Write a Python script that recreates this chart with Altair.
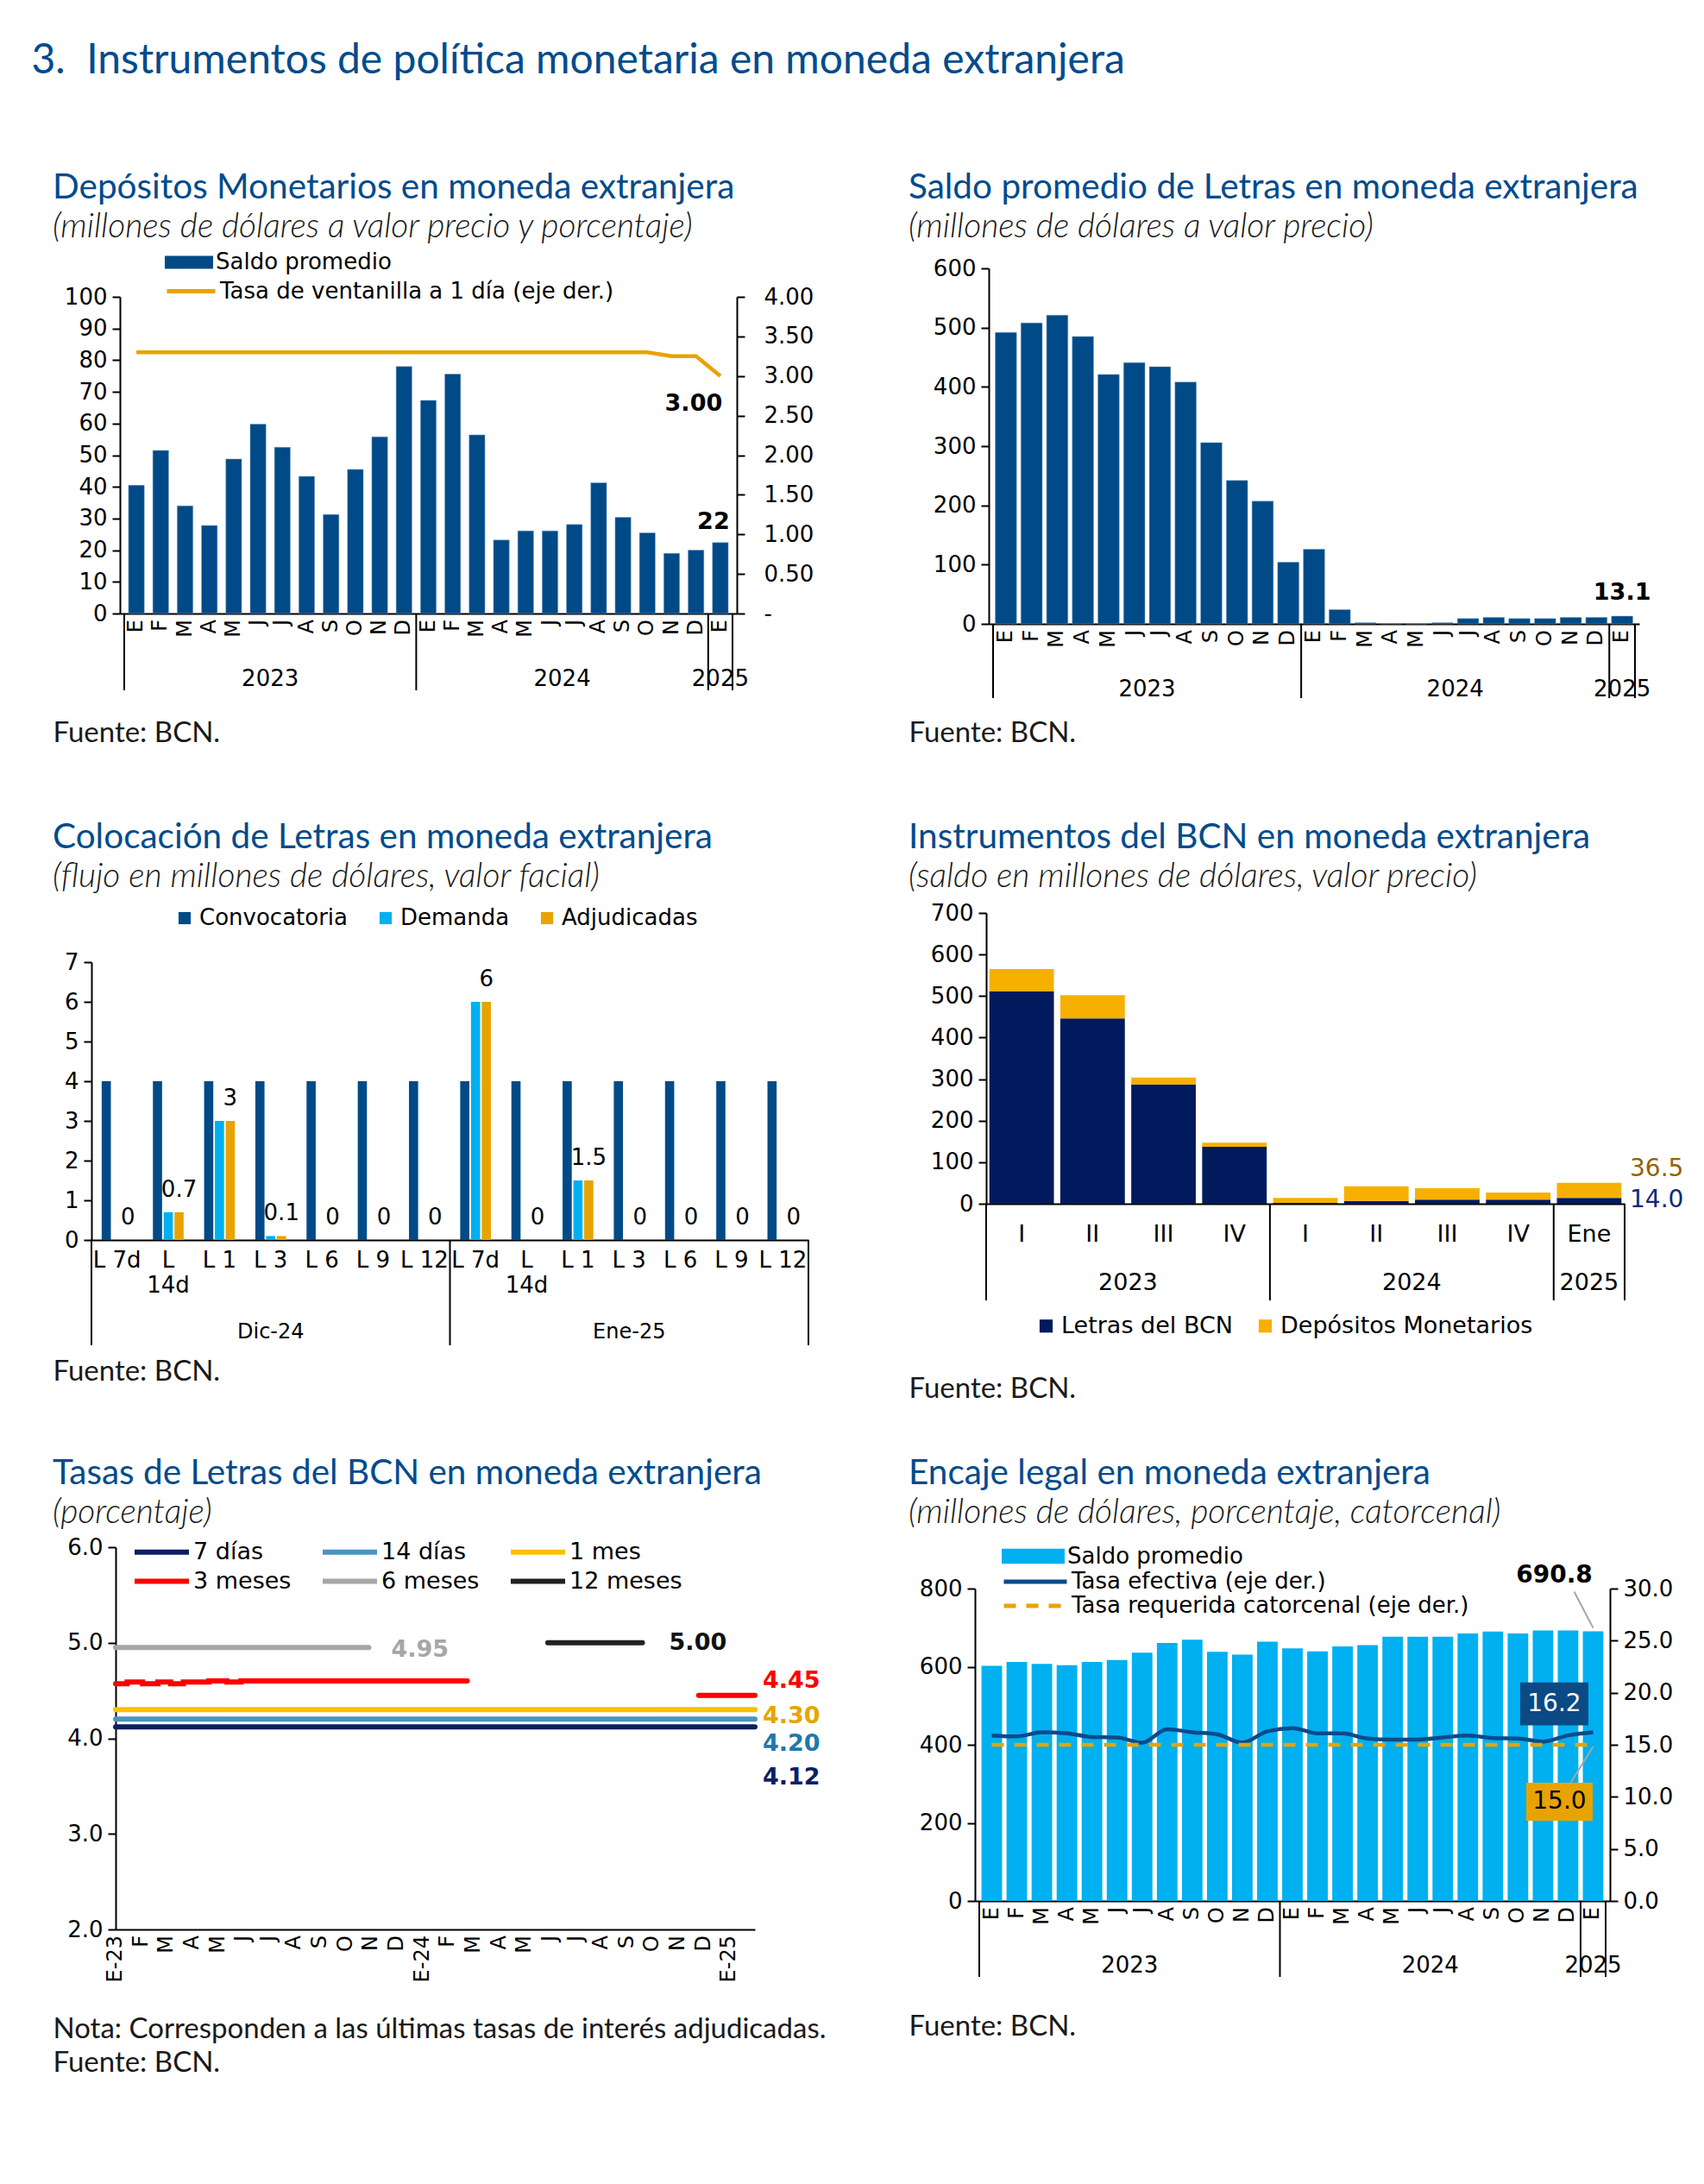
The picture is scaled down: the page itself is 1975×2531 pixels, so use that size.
import json
import altair as alt
import pandas as pd

# ---------------------------------------------------------------- data
MESES = ["E", "F", "M", "A", "M", "J", "J", "A", "S", "O", "N", "D"]

# 1. Depósitos Monetarios (ene-2023 .. ene-2025)
dep_saldo = [40.5, 51.5, 34.0, 27.8, 48.8, 59.8, 52.5, 43.3, 31.3, 45.5, 55.8, 78.0,
             67.3, 75.6, 56.4, 23.2, 26.1, 26.1, 28.1, 41.3, 30.4, 25.5, 19.0, 20.0,
             22.4]
dep_tasa = [3.30, 3.30, 3.30, 3.30, 3.30, 3.30, 3.30, 3.30, 3.30, 3.30, 3.30, 3.30,
            3.30, 3.30, 3.30, 3.30, 3.30, 3.30, 3.30, 3.30, 3.30, 3.30, 3.25, 3.25,
            3.00]

# 2. Saldo promedio de Letras
letras_saldo = [492, 508, 521, 485, 421, 441, 434, 408, 306, 242, 207, 104,
                126, 24, 2, 0.7, 0.5, 2, 9, 11, 9, 9, 11, 11,
                13.1]

# 3. Colocación de Letras
col_mes = ["Dic-24", "Ene-25"]
col_cat = ["L 7d", "L 14d", "L 1", "L 3", "L 6", "L 9", "L 12"]
col_conv = [4, 4, 4, 4, 4, 4, 4, 4, 4, 4, 4, 4, 4, 4]
col_dem = [0, 0.7, 3, 0.1, 0, 0, 0, 6, 0, 1.5, 0, 0, 0, 0]
col_adj = [0, 0.7, 3, 0.1, 0, 0, 0, 6, 0, 1.5, 0, 0, 0, 0]

# 4. Instrumentos del BCN
ins_per = ["I", "II", "III", "IV", "I", "II", "III", "IV", "Ene"]
ins_anio = ["2023", "2023", "2023", "2023", "2024", "2024", "2024", "2024", "2025"]
ins_letras = [511, 446, 287, 137, 2, 7, 10, 10, 14.0]
ins_dep = [54, 56, 17, 10, 12, 35, 27.5, 17, 36.5]

# 5. Tasas de Letras (x = meses desde ene-2023)
t7_x, t7_y = [0, 25], [4.12, 4.12]
t14_x, t14_y = [0, 25], [4.20, 4.20]
t1m_x, t1m_y = [0, 25], [4.30, 4.30]
t3m_a_x = [0, 0.45, 1.05, 1.65, 2.15, 2.65, 3.65, 4.35, 4.9, 13.75]
t3m_a_y = [4.57, 4.59, 4.57, 4.59, 4.57, 4.59, 4.60, 4.59, 4.60, 4.60]
t3m_b_x, t3m_b_y = [22.8, 25], [4.45, 4.45]
t6m_x, t6m_y = [0, 9.9], [4.95, 4.95]
t12m_x, t12m_y = [16.9, 20.6], [5.00, 5.00]

# 6. Encaje legal
enc_saldo = [602, 612, 607, 604, 612, 617, 636, 661, 669, 638, 631, 664,
             647, 639, 652, 655, 677, 677, 677, 685, 690, 685, 693, 693,
             690.8]
enc_efec = [15.9, 15.8, 16.2, 16.1, 15.75, 15.7, 15.2, 16.5, 16.2, 16.0, 15.2, 16.3,
            16.6, 16.1, 16.1, 15.6, 15.5, 15.5, 15.7, 15.9, 15.65, 15.6, 15.3, 15.9,
            16.2]
enc_req = [15.0, 15.0, 15.0, 15.0, 15.0, 15.0, 15.0, 15.0, 15.0, 15.0, 15.0, 15.0,
           15.0, 15.0, 15.0, 15.0, 15.0, 15.0, 15.0, 15.0, 15.0, 15.0, 15.0, 15.0,
           15.0]

# ---------------------------------------------------------------- style
FONT = "DejaVu Sans"
TFONT = "Lato"
BLUE_T = "#004B8D"
DARK = "#004A87"
NAVY = "#001A5E"
AMBER = "#F7B000"
GOLD = "#E8A300"
CYAN = "#00B0F0"
LS = 26  # label font size
NB = "\u00a0"
TC = 60  # tickCount high enough that explicit tick values are never thinned

N = 25
month_vals = [i + 0.5 for i in range(N)]
month_let = [MESES[i % 12] for i in range(N)]


def ttl(text, sub, offset):
    return alt.TitleParams(text=text, subtitle=sub, anchor="start", frame="bounds",
                           font=TFONT, fontSize=40.5, fontWeight="normal", color=BLUE_T,
                           subtitleFont=TFONT, subtitleFontSize=39, subtitleFontStyle="italic",
                           subtitleFontWeight=300, subtitleColor="#1a1a1a",
                           subtitlePadding=6, offset=offset)


def fuente(text, tx, ty):
    return dict(title=text, titleAnchor="start", titleAlign="left", titleBaseline="middle",
                titleX=tx, titleY=ty, titleFont=TFONT, titleFontSize=33,
                titleFontWeight="normal", titleColor="#1a1a1a", titleLineHeight=39)


def month_x(tx, ty):
    return alt.X("pos:Q", scale=alt.Scale(domain=[0, N], nice=False, zero=False),
                 axis=alt.Axis(labels=False, ticks=False, grid=False,
                               **fuente("Fuente: BCN.", tx, ty)))


def month_labels(height):
    return alt.Chart(pd.DataFrame({"pos": month_vals, "m": month_let})).mark_text(
        font=FONT, fontSize=24, angle=270, align="right", baseline="middle").encode(
        x="pos:Q", y=alt.value(height + 7), text="m:N")


def years_layers(height, ysep, ylab, yrs):
    seps = pd.DataFrame({"pos": [0, 12, 24, 25]})
    r = alt.Chart(seps).mark_rule(color="black", strokeWidth=2).encode(
        x="pos:Q", y=alt.value(height), y2=alt.value(height + ysep))
    t = alt.Chart(pd.DataFrame({"pos": [6, 18, 24.5], "yr": yrs})).mark_text(
        font=FONT, fontSize=LS, baseline="middle").encode(
        x="pos:Q", y=alt.value(height + ylab), text="yr:N")
    return r, t


def bar_legend(x, y, size, ratio):
    return alt.Legend(title=None, orient="none", legendX=x, legendY=y,
                      symbolType=f"M-1,-{ratio}L1,-{ratio}L1,{ratio}L-1,{ratio}Z",
                      symbolSize=size, symbolStrokeWidth=0, labelOffset=3)


YEARS = ["2023", "2024", "2025"]

# ---------------------------------------------------------------- chart 1
W1, H1 = 715, 367
df1 = pd.DataFrame({"pos": month_vals, "saldo": dep_saldo, "tasa": dep_tasa,
                    "s1": "Saldo promedio", "s2": "Tasa de ventanilla a 1 día (eje der.)"})
bars1 = alt.Chart(df1).mark_bar(width=0.64 * W1 / N, stroke="#7FA6CC", strokeWidth=0.5).encode(
    x=month_x(-78, 138),
    y=alt.Y("saldo:Q", scale=alt.Scale(domain=[0, 100]),
            axis=alt.Axis(values=list(range(0, 101, 10)), tickCount=TC, format="d",
                          title=None)),
    fill=alt.Fill("s1:N", scale=alt.Scale(range=[DARK]),
                  legend=bar_legend(52, -68, 3136, 0.27)))
lbl1 = alt.Chart(df1.tail(1)).mark_text(font=FONT, fontSize=27, fontWeight="bold",
                                        dx=-8, dy=-24, baseline="middle").encode(
    x="pos:Q", y="saldo:Q", text=alt.Text("saldo:Q", format=".0f"))
line1 = alt.Chart(df1).mark_line(strokeWidth=4.5).encode(
    x="pos:Q",
    y=alt.Y("tasa:Q", scale=alt.Scale(domain=[0, 4]),
            axis=alt.Axis(orient="right", values=[0, 0.5, 1, 1.5, 2, 2.5, 3, 3.5, 4], title=None,
                          tickCount=TC,
                          labelExpr="datum.value == 0 ? '-' : format(datum.value, '.2f')",
                          labelPadding=22)),
    stroke=alt.Stroke("s2:N", scale=alt.Scale(range=[GOLD]),
                      legend=alt.Legend(title=None, orient="none", legendX=52, legendY=-37,
                                        symbolType="stroke", symbolSize=3136,
                                        symbolStrokeWidth=5, labelOffset=3)))
lbl1b = alt.Chart(df1.tail(1)).mark_text(font=FONT, fontSize=27, fontWeight="bold",
                                         dx=-31, dy=32, baseline="middle").encode(
    x="pos:Q", y="tasa:Q", text=alt.Text("tasa:Q", format=".2f"))
r1, t1 = years_layers(H1, 89, 76, YEARS)
c1 = alt.layer(alt.layer(bars1, lbl1), alt.layer(line1, lbl1b), r1, t1,
               month_labels(H1)).resolve_scale(y="independent").properties(
    width=W1, height=H1,
    title=ttl("Depósitos Monetarios en moneda extranjera",
              "(millones de dólares a valor precio y porcentaje)", -7))

# ---------------------------------------------------------------- chart 2
W2, H2 = 754, 412
df2 = pd.DataFrame({"pos": month_vals, "saldo": letras_saldo})
bars2 = alt.Chart(df2).mark_bar(width=0.82 * W2 / N, color=DARK, stroke="#7FA6CC",
                                strokeWidth=0.5).encode(
    x=month_x(-93, 126),
    y=alt.Y("saldo:Q", scale=alt.Scale(domain=[0, 600]),
            axis=alt.Axis(values=list(range(0, 601, 100)), tickCount=TC, format="d",
                          title=None)))
lbl2 = alt.Chart(df2.tail(1)).mark_text(font=FONT, fontSize=27, fontWeight="bold",
                                        dy=-27, baseline="middle").encode(
    x="pos:Q", y="saldo:Q", text=alt.Text("saldo:Q", format=".1f"))
r2, t2 = years_layers(H2, 86, 76, YEARS)
c2 = alt.layer(bars2, lbl2, r2, t2, month_labels(H2)).properties(
    width=W2, height=H2,
    title=ttl("Saldo promedio de Letras en moneda extranjera",
              "(millones de dólares a valor precio)", 15))

# ---------------------------------------------------------------- chart 3
W3, H3 = 831, 322
SER3 = ["Convocatoria", "Demanda", "Adjudicadas"]
keys3 = [f"{m}|{c}" for m in col_mes for c in col_cat]
rows3 = []
for k, cv, dm, ad in zip(keys3, col_conv, col_dem, col_adj):
    rows3.append({"key": k, "serie": "Convocatoria", "val": cv, "lbl": ""})
    rows3.append({"key": k, "serie": "Demanda", "val": dm, "lbl": ""})
    rows3.append({"key": k, "serie": "Adjudicadas", "val": ad, "lbl": f"{ad:g}"})
df3 = pd.DataFrame(rows3)
step3 = W3 / len(keys3)
x3 = alt.X("key:N", sort=keys3, scale=alt.Scale(paddingInner=0.4, paddingOuter=0.2),
           axis=alt.Axis(labelExpr="split(datum.value, '|')[1] == 'L 14d' ? ['L', '14d'] : split(datum.value, '|')[1]",
                         labelAngle=0, ticks=False, labelPadding=10, labelLineHeight=29,
                         labelFontSize=LS, labelOverlap=False,
                         **fuente("Fuente: BCN.", -45, 152)))
xo3 = alt.XOffset("serie:N", sort=SER3, scale=alt.Scale(paddingInner=0.15))
bars3 = alt.Chart(df3).mark_bar().encode(
    x=x3, xOffset=xo3,
    y=alt.Y("val:Q", scale=alt.Scale(domain=[0, 7]),
            axis=alt.Axis(values=list(range(0, 8)), tickCount=TC, format="d", title=None)),
    color=alt.Color("serie:N", sort=SER3,
                    scale=alt.Scale(domain=SER3, range=[DARK, CYAN, GOLD]),
                    legend=alt.Legend(title=None, orient="none", direction="horizontal",
                                      legendX=95, legendY=-64, symbolType="square",
                                      symbolSize=200, columnPadding=30, labelOffset=4)))
lbl3 = alt.Chart(df3).transform_filter("datum.serie == 'Adjudicadas'").mark_text(
    font=FONT, fontSize=LS, dy=-26, baseline="middle").encode(
    x=alt.X("key:N", sort=keys3), xOffset=alt.XOffset("serie:N", sort=SER3),
    y="val:Q", text="lbl:N")
sepL3 = alt.Chart(pd.DataFrame({"key": ["Dic-24|L 7d", "Ene-25|L 7d"]})).mark_rule(
    color="black", strokeWidth=2, xOffset=-step3 / 2).encode(
    x=alt.X("key:N", sort=keys3), y=alt.value(H3), y2=alt.value(H3 + 122))
sepR3 = alt.Chart(pd.DataFrame({"key": ["Ene-25|L 12"]})).mark_rule(
    color="black", strokeWidth=2, xOffset=step3 / 2).encode(
    x=alt.X("key:N", sort=keys3), y=alt.value(H3), y2=alt.value(H3 + 122))
grp3 = alt.Chart(pd.DataFrame({"key": ["Dic-24|L 3", "Ene-25|L 3"], "g": col_mes})).mark_text(
    font=FONT, fontSize=24, baseline="middle").encode(
    x=alt.X("key:N", sort=keys3), y=alt.value(H3 + 107), text="g:N")
c3 = alt.layer(bars3, lbl3, sepL3, sepR3, grp3).properties(
    width=W3, height=H3,
    title=ttl("Colocación de Letras en moneda extranjera",
              NB + "(flujo en millones de dólares, valor facial)", 15))

# ---------------------------------------------------------------- chart 4
W4, H4 = 740, 337
SER4 = ["Letras del BCN", "Depósitos Monetarios"]
keys4 = [f"{a}-{p}" for a, p in zip(ins_anio, ins_per)]
rows4 = []
for k, le, de in zip(keys4, ins_letras, ins_dep):
    rows4.append({"key": k, "serie": SER4[0], "val": le, "ord": 0})
    rows4.append({"key": k, "serie": SER4[1], "val": de, "ord": 1})
df4 = pd.DataFrame(rows4)
step4 = W4 / len(keys4)
x4 = alt.X("key:N", sort=keys4, scale=alt.Scale(paddingInner=0.09, paddingOuter=0.045),
           axis=alt.Axis(labelExpr="split(datum.value, '-')[1]", labelAngle=0, ticks=False,
                         labelPadding=22, labelFontSize=27,
                         **fuente("Fuente: BCN.", -90, 214)))
bars4 = alt.Chart(df4).mark_bar().encode(
    x=x4,
    y=alt.Y("val:Q", stack="zero", scale=alt.Scale(domain=[0, 700]),
            axis=alt.Axis(values=list(range(0, 701, 100)), tickCount=TC, format="d",
                          title=None)),
    color=alt.Color("serie:N", sort=SER4, scale=alt.Scale(domain=SER4, range=[NAVY, AMBER]),
                    legend=alt.Legend(title=None, orient="none", direction="horizontal",
                                      legendX=56, legendY=H4 + 128, symbolType="square",
                                      symbolSize=230, columnPadding=24, labelOffset=4,
                                      labelFontSize=27)),
    order=alt.Order("ord:Q"))
lbl4a = alt.Chart(pd.DataFrame({"key": [keys4[-1]], "y": [ins_letras[-1] + ins_dep[-1]],
                                "t": [f"{ins_dep[-1]:.1f}"]})).mark_text(
    font=FONT, fontSize=28, align="left", baseline="middle", dx=step4 / 2 + 6, dy=-16,
    color="#946200").encode(x=alt.X("key:N", sort=keys4), y="y:Q", text="t:N")
lbl4b = alt.Chart(pd.DataFrame({"key": [keys4[-1]], "y": [ins_letras[-1]],
                                "t": [f"{ins_letras[-1]:.1f}"]})).mark_text(
    font=FONT, fontSize=28, align="left", baseline="middle", dx=step4 / 2 + 6, dy=3,
    color="#0B2A78").encode(x=alt.X("key:N", sort=keys4), y="y:Q", text="t:N")
sepL4 = alt.Chart(pd.DataFrame({"key": ["2023-I", "2024-I", "2025-Ene"]})).mark_rule(
    color="black", strokeWidth=2, xOffset=-step4 / 2).encode(
    x=alt.X("key:N", sort=keys4), y=alt.value(H4), y2=alt.value(H4 + 112))
sepR4 = alt.Chart(pd.DataFrame({"key": ["2025-Ene"]})).mark_rule(
    color="black", strokeWidth=2, xOffset=step4 / 2).encode(
    x=alt.X("key:N", sort=keys4), y=alt.value(H4), y2=alt.value(H4 + 112))
yrA4 = alt.Chart(pd.DataFrame({"key": ["2023-II", "2024-II"], "g": ["2023", "2024"]})).mark_text(
    font=FONT, fontSize=27, baseline="middle", dx=step4 / 2).encode(
    x=alt.X("key:N", sort=keys4), y=alt.value(H4 + 92), text="g:N")
yrB4 = alt.Chart(pd.DataFrame({"key": ["2025-Ene"], "g": ["2025"]})).mark_text(
    font=FONT, fontSize=27, baseline="middle").encode(
    x=alt.X("key:N", sort=keys4), y=alt.value(H4 + 92), text="g:N")
c4 = alt.layer(bars4, lbl4a, lbl4b, sepL4, sepR4, yrA4, yrB4).properties(
    width=W4, height=H4,
    title=ttl("Instrumentos del BCN en moneda extranjera",
              NB + "(saldo en millones de dólares, valor precio)", 9))

# ---------------------------------------------------------------- chart 5
W5, H5 = 741, 443
SER5 = ["7 días", "14 días", "1 mes", "3 meses", "6 meses", "12 meses"]
COL5 = ["#0B1F65", "#4A94C0", "#FFC000", "#FF0000", "#A6A6A6", "#222222"]
# legend fills column by column: order entries so rows read as in the original
LEG5 = [SER5[0], SER5[3], SER5[1], SER5[4], SER5[2], SER5[5]]
COL5L = [COL5[0], COL5[3], COL5[1], COL5[4], COL5[2], COL5[5]]
segs5 = [("7 días", "a", t7_x, t7_y), ("14 días", "a", t14_x, t14_y),
         ("1 mes", "a", t1m_x, t1m_y), ("3 meses", "a", t3m_a_x, t3m_a_y),
         ("3 meses", "b", t3m_b_x, t3m_b_y), ("6 meses", "a", t6m_x, t6m_y),
         ("12 meses", "a", t12m_x, t12m_y)]
rows5 = []
for s, g, xs, ys in segs5:
    for xv, yv in zip(xs, ys):
        rows5.append({"serie": s, "seg": s + g, "x": xv, "y": yv})
df5 = pd.DataFrame(rows5)
lab5 = [("E-" + str(23 + i // 12)) if i % 12 == 0 else MESES[i % 12] for i in range(25)]
lines5 = alt.Chart(df5).mark_line(strokeWidth=6, strokeCap="round", interpolate="step-after").encode(
    x=alt.X("x:Q", scale=alt.Scale(domain=[0, 25], nice=False),
            axis=alt.Axis(labels=False, ticks=False, grid=False,
                          **fuente(["Nota: Corresponden a las últimas tasas de interés adjudicadas.",
                                    "Fuente: BCN."], -73, 115))),
    y=alt.Y("y:Q", scale=alt.Scale(domain=[2, 6]),
            axis=alt.Axis(values=[2, 3, 4, 5, 6], tickCount=TC, format=".1f", title=None)),
    color=alt.Color("serie:N", sort=LEG5, scale=alt.Scale(domain=LEG5, range=COL5L),
                    legend=alt.Legend(title=None, orient="none", columns=3, legendX=40,
                                      legendY=-8, symbolType="M-3,0L3,0", symbolSize=441,
                                      symbolStrokeWidth=6, columnPadding=24, rowPadding=6,
                                      labelOffset=23, labelFontSize=27)),
    detail="seg:N")
mlab5 = alt.Chart(pd.DataFrame({"x": list(range(25)), "m": lab5})).mark_text(
    font=FONT, fontSize=24, angle=270, align="right", baseline="middle").encode(
    x="x:Q", y=alt.value(H5 + 7), text="m:N")
ends5 = pd.DataFrame({"x": [25, 25, 25, 25], "y": [4.45, 4.30, 4.20, 4.12],
                      "t": ["4.45", "4.30", "4.20", "4.12"], "dy": [-17, 8, 29, 59],
                      "c": ["#FF0000", "#E8A500", "#1F78AC", "#0B1F65"]})
end_layers = []
for _, r in ends5.iterrows():
    end_layers.append(alt.Chart(pd.DataFrame([r])).mark_text(
        font=FONT, fontSize=27, fontWeight="bold", align="left", baseline="middle",
        dx=9, dy=float(r["dy"]), color=r["c"]).encode(x="x:Q", y="y:Q", text="t:N"))
mid5 = pd.DataFrame({"x": [t6m_x[-1], t12m_x[-1]], "y": [t6m_y[-1], t12m_y[-1]],
                     "t": ["4.95", "5.00"]})
lab95 = alt.Chart(mid5.head(1)).mark_text(font=FONT, fontSize=27, fontWeight="bold",
                                          align="left", baseline="middle", dx=26,
                                          dy=3, color="#A6A6A6").encode(x="x:Q", y="y:Q", text="t:N")
lab500 = alt.Chart(mid5.tail(1)).mark_text(font=FONT, fontSize=27, fontWeight="bold",
                                           align="left", baseline="middle", dx=31,
                                           color="#111111").encode(x="x:Q", y="y:Q", text="t:N")
c5 = alt.layer(lines5, mlab5, lab95, lab500, *end_layers).properties(
    width=W5, height=H5,
    title=ttl("Tasas de Letras del BCN en moneda extranjera", NB + "(porcentaje)", 7))

# ---------------------------------------------------------------- chart 6
W6, H6 = 736, 362
df6 = pd.DataFrame({"pos": month_vals, "saldo": enc_saldo, "s1": "Saldo promedio"})
df6e = pd.DataFrame({"pos": month_vals, "v": enc_efec, "serie": "Tasa efectiva (eje der.)"})
df6r = pd.DataFrame({"pos": month_vals, "v": enc_req,
                     "serie": "Tasa requerida catorcenal (eje der.)"})
bars6 = alt.Chart(df6).mark_bar(width=0.81 * W6 / N).encode(
    x=month_x(-77, 145),
    y=alt.Y("saldo:Q", scale=alt.Scale(domain=[0, 800]),
            axis=alt.Axis(values=list(range(0, 801, 200)), tickCount=TC, format="d",
                          title=None)),
    fill=alt.Fill("s1:N", scale=alt.Scale(range=[CYAN]),
                  legend=bar_legend(31, -74, 5329, 0.24)))
last6 = df6.tail(1)
lbl6 = alt.Chart(last6).mark_text(font=FONT, fontSize=28, fontWeight="bold",
                                  dx=-45, dy=-64, baseline="middle").encode(
    x="pos:Q", y="saldo:Q", text=alt.Text("saldo:Q", format=".1f"))
lead6 = alt.Chart(last6).mark_rule(color="#A6A6A6", strokeWidth=2, xOffset=-22, yOffset=-46,
                                   x2Offset=0, y2Offset=-4).encode(
    x="pos:Q", x2="pos:Q", y="saldo:Q", y2="saldo:Q")
yR6 = alt.Y("v:Q", scale=alt.Scale(domain=[0, 30]),
            axis=alt.Axis(orient="right", values=[0, 5, 10, 15, 20, 25, 30], format=".1f",
                          tickCount=TC, title=None))
lineE = alt.Chart(df6e).mark_line(strokeWidth=4.5, interpolate="monotone").encode(
    x="pos:Q", y=yR6,
    stroke=alt.Stroke("serie:N", scale=alt.Scale(range=["#0B4A8B"]),
                      legend=alt.Legend(title=None, orient="none", legendX=31, legendY=-47,
                                        symbolType="stroke", symbolSize=5329,
                                        symbolStrokeWidth=5, labelOffset=3)))
lineR = alt.Chart(df6r).mark_line(strokeWidth=4.5, color=GOLD).encode(
    x="pos:Q", y="v:Q",
    strokeDash=alt.StrokeDash("serie:N", scale=alt.Scale(range=[[14, 12]]),
                              legend=alt.Legend(title=None, orient="none", legendX=31,
                                                legendY=-19, symbolType="stroke",
                                                symbolSize=5329, symbolStrokeWidth=5,
                                                symbolStrokeColor=GOLD, labelOffset=3)))
endE = alt.Chart(df6e.tail(1))
endR = alt.Chart(df6r.tail(1))
boxE = endE.mark_point(shape="M-1,-0.63L1,-0.63L1,0.63L-1,0.63Z", size=6241, filled=True,
                       opacity=1, color="#0B4A85", xOffset=-45, yOffset=-33).encode(x="pos:Q", y="v:Q")
txtE = endE.mark_text(font=FONT, fontSize=28, color="white", dx=-45, dy=-33,
                      baseline="middle").encode(x="pos:Q", y="v:Q", text=alt.Text("v:Q", format=".1f"))
leadR = endR.mark_rule(color="#A6A6A6", strokeWidth=2, xOffset=-26, yOffset=44,
                       x2Offset=0, y2Offset=2).encode(x="pos:Q", x2="pos:Q", y="v:Q", y2="v:Q")
boxR = endR.mark_point(shape="M-1,-0.57L1,-0.57L1,0.57L-1,0.57Z", size=5929, filled=True,
                       opacity=1, color="#E8A300", xOffset=-39, yOffset=66).encode(x="pos:Q", y="v:Q")
txtR = endR.mark_text(font=FONT, fontSize=28, color="black", dx=-39, dy=66,
                      baseline="middle").encode(x="pos:Q", y="v:Q", text=alt.Text("v:Q", format=".1f"))
r6, t6 = years_layers(H6, 88, 75, YEARS)
c6 = alt.layer(alt.layer(bars6, lead6, lbl6),
               alt.layer(lineE, lineR, leadR, boxE, txtE, boxR, txtR),
               r6, t6, month_labels(H6)).resolve_scale(y="independent").properties(
    width=W6, height=H6,
    title=ttl("Encaje legal en moneda extranjera",
              "(millones de dólares, porcentaje, catorcenal)", -6))

# ---------------------------------------------------------------- page layout
IND = dict(color="independent", fill="independent", stroke="independent",
           strokeDash="independent")


def spacer(w, h):
    # empty cell: lets every panel be placed by its own outer bounds
    return alt.Chart(pd.DataFrame({"d": [0]})).mark_point(opacity=0, size=1).encode(
        x=alt.value(0), y=alt.value(0)).properties(width=w, height=h)


def cell(c):
    return alt.hconcat(spacer(24, 1), c, spacing=0).resolve_scale(**IND)


col1 = alt.vconcat(spacer(1, 1), cell(c1),
                   alt.vconcat(cell(c3), cell(c5), spacing=81).resolve_scale(**IND),
                   spacing=84).resolve_scale(**IND)
col2 = alt.vconcat(spacer(1, 1), cell(c2),
                   alt.vconcat(cell(c4), cell(c6), spacing=61).resolve_scale(**IND),
                   spacing=84).resolve_scale(**IND)
chart = alt.hconcat(col1, col2, spacing=71).resolve_scale(**IND).properties(
    title=alt.TitleParams(text="3." + NB + NB + "Instrumentos de política monetaria en moneda extranjera",
                          anchor="start", font=TFONT, fontSize=48, fontWeight="normal",
                          color=BLUE_T, offset=17),
    padding={"left": 28, "top": 38, "right": 5, "bottom": 5}
).configure_view(stroke=None).configure_axis(
    labelFont=FONT, labelFontSize=LS, labelColor="black", domainColor="black",
    domainWidth=2, tickColor="black", tickWidth=2, tickSize=9, grid=False, labelPadding=6
).configure_legend(
    labelFont=FONT, labelFontSize=LS, labelColor="black", labelLimit=0
).configure_text(font=FONT)

chart.save("out.html", embed_options={"renderer": "svg", "actions": False})
